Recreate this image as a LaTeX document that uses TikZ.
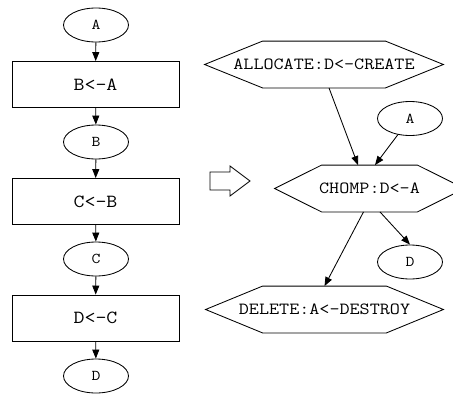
\documentclass[tikz,border=0pt]{standalone}
\usepackage{fontspec}
\usepackage{graphicx}
\usetikzlibrary{arrows.meta,shapes.geometric}
% Courier-like lettering: typewriter face, slightly widened
\newcommand\cw[1]{\scalebox{1.15}[1]{#1}}
\begin{document}
\begin{tikzpicture}[x=1pt,y=-1pt,line width=0.85pt,
  arr/.style={-{Triangle[length=9pt,width=7pt]}},
  ell/.style={ellipse,draw,inner sep=0pt,minimum width=65pt,minimum height=34pt,
    font=\fontsize{15}{16}\selectfont\ttfamily},
  stepbox/.style={rectangle,draw,inner sep=0pt,minimum width=167pt,minimum height=46pt,
    font=\fontsize{18.5}{20}\selectfont\ttfamily},
  hexlbl/.style={rectangle,inner sep=0pt,minimum height=46pt,
    font=\fontsize{17}{18}\selectfont\ttfamily},
]
\useasboundingbox (0,0) rectangle (453,394);

% sequential program, left column
\node[ell] (a1) at (96,25) {\cw{A}};
\node[stepbox] (s1) at (95.5,84.5) {\cw{B<-A}};
\node[ell] (b1) at (96,142) {\cw{B}};
\node[stepbox] (s2) at (95.5,201.5) {\cw{C<-B}};
\node[ell] (c1) at (96,259) {\cw{C}};
\node[stepbox] (s3) at (95.5,318) {\cw{D<-C}};
\node[ell] (d1) at (96,376) {\cw{D}};

\draw[arr] (a1) -- (s1);
\draw[arr] (s1) -- (b1);
\draw[arr] (b1) -- (s2);
\draw[arr] (s2) -- (c1);
\draw[arr] (c1) -- (s3);
\draw[arr] (s3) -- (d1);

% transformation arrow
\draw (210,172) -- (230,172) -- (230,166) -- (250,181) -- (230,196) -- (230,190) -- (210,190) -- cycle;

% chomped program, right side
\node[hexlbl,minimum width=238pt] (alloc) at (324,64.5) {\cw{ALLOCATE:D<-CREATE}};
\draw (alloc.west) -- ([xshift=58pt]alloc.north west) -- ([xshift=-58pt]alloc.north east)
  -- (alloc.east) -- ([xshift=-58pt]alloc.south east) -- ([xshift=58pt]alloc.south west) -- cycle;

\node[ell] (a2) at (410,118.5) {\cw{A}};

\node[hexlbl,minimum width=189pt] (chomp) at (369.5,188.5) {\cw{CHOMP:D<-A}};
\draw (chomp.west) -- ([xshift=47pt]chomp.north west) -- ([xshift=-47pt]chomp.north east)
  -- (chomp.east) -- ([xshift=-47pt]chomp.south east) -- ([xshift=47pt]chomp.south west) -- cycle;

\node[ell] (d2) at (410,262) {\cw{D}};

\node[hexlbl,minimum width=237pt] (del) at (324.5,309.5) {\cw{DELETE:A<-DESTROY}};
\draw (del.west) -- ([xshift=57pt]del.north west) -- ([xshift=-57pt]del.north east)
  -- (del.east) -- ([xshift=-57pt]del.south east) -- ([xshift=57pt]del.south west) -- cycle;

\draw[arr] ([xshift=5pt]alloc.south) -- ([xshift=-11.5pt]chomp.north);
\draw[arr] (a2) -- ([xshift=5.5pt]chomp.north);
\draw[arr] ([xshift=10.5pt]chomp.south) -- (d2.north);
\draw[arr] ([xshift=-6pt]chomp.south) -- (del.north);
\end{tikzpicture}
\end{document}
